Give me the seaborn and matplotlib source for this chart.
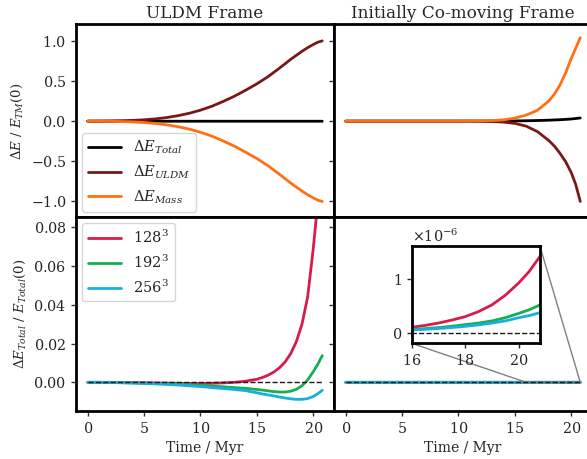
import numpy as np
import pandas as pd
import matplotlib
matplotlib.use("Agg")
import matplotlib.pyplot as plt
import seaborn as sns

# ---------------- data ----------------
# energy components (top row), time in Myr
t_top = [0, 1, 2, 3, 4, 5, 6, 7, 8, 9, 10, 11, 12, 13, 14, 15, 16, 17, 18, 18.5,
         19, 19.5, 20, 20.4, 20.8]
uldm_frame_total = [0, 0, 0, 0, 0, 0, 0, -0.001, -0.001, -0.001, -0.001, -0.001, -0.001, -0.001,
                    -0.001, -0.001, -0.001, -0.001, -0.001, -0.001, -0.001, -0.001, -0.001, -0.001, -0.001]
uldm_frame_uldm = [0, 0.0005, 0.002, 0.005, 0.01, 0.017, 0.028, 0.045, 0.068, 0.098, 0.137, 0.185,
                   0.245, 0.31, 0.385, 0.465, 0.555, 0.66, 0.77, 0.82, 0.87, 0.915, 0.955, 0.983, 1.0]
uldm_frame_mass = [0, -0.0005, -0.002, -0.005, -0.01, -0.017, -0.028, -0.046, -0.069, -0.099, -0.138,
                   -0.186, -0.246, -0.311, -0.386, -0.466, -0.556, -0.661, -0.771, -0.821, -0.871,
                   -0.916, -0.956, -0.984, -1.0]

comov_total = [0, 0, 0, 0, 0, 0, 0, 0, 0, 0, 0, 0.0005, 0.001, 0.0015, 0.002, 0.003, 0.005, 0.008,
               0.012, 0.015, 0.018, 0.022, 0.027, 0.033, 0.04]
comov_uldm = [0, 0, 0, 0, 0, 0, 0, 0, 0, 0, 0, -0.0005, -0.002, -0.005, -0.012, -0.028, -0.062, -0.13,
              -0.24, -0.31, -0.4, -0.505, -0.64, -0.79, -1.0]
comov_mass = [0, 0, 0, 0, 0, 0, 0, 0, 0, 0, 0, 0.001, 0.003, 0.007, 0.016, 0.038, 0.075, 0.135,
              0.25, 0.335, 0.45, 0.6, 0.78, 0.91, 1.04]

# relative total energy error for three grid resolutions (bottom row)
t_res = [0, 1, 2, 3, 4, 5, 6, 7, 8, 9, 10, 11, 12, 13, 14, 15, 15.5, 16, 16.5, 17, 17.5, 18,
         18.5, 19, 19.5, 20, 20.4, 20.8]
uldm_res128 = [0, 0, 0, -0.0001, -0.0001, -0.0002, -0.0003, -0.0004, -0.0005, -0.0006, -0.0006,
               -0.0005, -0.0003, 0, 0.0006, 0.0016, 0.0025, 0.0037, 0.0053, 0.0075, 0.0105, 0.0148,
               0.021, 0.030, 0.044, 0.069, 0.093, 0.13]
uldm_res192 = [0, 0, -0.0001, -0.0002, -0.0003, -0.0004, -0.0006, -0.0007, -0.0009, -0.0012, -0.0015,
               -0.0019, -0.0023, -0.0027, -0.0031, -0.0037, -0.0040, -0.0044, -0.0048, -0.005, -0.005,
               -0.0046, -0.0036, -0.0018, 0.0012, 0.0055, 0.0093, 0.0138]
uldm_res256 = [0, 0, -0.0001, -0.0002, -0.0004, -0.0006, -0.0008, -0.0011, -0.0014, -0.0018, -0.0022,
               -0.0027, -0.0032, -0.0037, -0.0043, -0.0054, -0.0060, -0.0065, -0.007, -0.0076, -0.0081,
               -0.0085, -0.0088, -0.0088, -0.0084, -0.0073, -0.0059, -0.0041]

t_comov_res = [0, 2, 4, 6, 8, 10, 12, 13, 14, 15, 16, 16.5, 17, 17.5, 18, 18.5, 19, 19.5, 20, 20.4, 20.8]
comov_res128 = [0, 0.003e-6, 0.01e-6, 0.018e-6, 0.03e-6, 0.042e-6, 0.058e-6, 0.068e-6, 0.079e-6,
                0.09e-6, 0.10e-6, 0.135e-6, 0.18e-6, 0.235e-6, 0.30e-6, 0.395e-6, 0.52e-6, 0.70e-6,
                0.93e-6, 1.15e-6, 1.43e-6]
comov_res192 = [0, 0.002e-6, 0.006e-6, 0.01e-6, 0.016e-6, 0.023e-6, 0.032e-6, 0.038e-6, 0.045e-6,
                0.052e-6, 0.06e-6, 0.075e-6, 0.095e-6, 0.12e-6, 0.15e-6, 0.18e-6, 0.22e-6, 0.28e-6,
                0.36e-6, 0.43e-6, 0.52e-6]
comov_res256 = [0, 0.002e-6, 0.005e-6, 0.009e-6, 0.014e-6, 0.02e-6, 0.027e-6, 0.032e-6, 0.038e-6,
                0.044e-6, 0.05e-6, 0.062e-6, 0.077e-6, 0.096e-6, 0.118e-6, 0.145e-6, 0.18e-6, 0.22e-6,
                0.28e-6, 0.32e-6, 0.375e-6]

res_labels = [r"$128^3$", r"$192^3$", r"$256^3$"]
comp_labels = [r"$\Delta E_{Total}$", r"$\Delta E_{ULDM}$", r"$\Delta E_{Mass}$"]
titles = ["ULDM Frame", "Initially Co-moving Frame"]

comp_colors = ["#000000", "#7a1818", "#ff7014"]
res_colors = ["#d81b4c", "#16ae55", "#19aee0"]

# ---------------- style ----------------
sns.set_theme(style="ticks")
plt.rcParams["font.family"] = ["DejaVu Serif", "DejaVu Sans"]
plt.rcParams["mathtext.fontset"] = "dejavuserif"
plt.rcParams["axes.formatter.use_mathtext"] = True
plt.rcParams["axes.linewidth"] = 2.0
plt.rcParams["xtick.labelsize"] = 10.3
plt.rcParams["ytick.labelsize"] = 10.3

fig = plt.figure(figsize=(5.87, 4.59), dpi=100)
gs = fig.add_gridspec(2, 2, left=0.1295, right=1.0085, top=0.9477, bottom=0.1046,
                      wspace=0, hspace=0)
ax_tl = fig.add_subplot(gs[0, 0])
ax_tr = fig.add_subplot(gs[0, 1], sharey=ax_tl, sharex=ax_tl)
ax_bl = fig.add_subplot(gs[1, 0], sharex=ax_tl)
ax_br = fig.add_subplot(gs[1, 1], sharey=ax_bl, sharex=ax_tl)

LW = 2.0


def comp_frame(t, tot, uldm, mass):
    return pd.DataFrame({"t": list(t) * 3,
                         "val": list(tot) + list(uldm) + list(mass),
                         "comp": [comp_labels[0]] * len(t) + [comp_labels[1]] * len(t)
                                 + [comp_labels[2]] * len(t)})


def res_frame(t, a, b, c):
    return pd.DataFrame({"t": list(t) * 3,
                         "val": list(a) + list(b) + list(c),
                         "res": [res_labels[0]] * len(t) + [res_labels[1]] * len(t)
                                + [res_labels[2]] * len(t)})


pal_comp = dict(zip(comp_labels, comp_colors))
pal_res = dict(zip(res_labels, res_colors))

# top row: energy components
sns.lineplot(data=comp_frame(t_top, uldm_frame_total, uldm_frame_uldm, uldm_frame_mass),
             x="t", y="val", hue="comp", palette=pal_comp, lw=LW, ax=ax_tl,
             estimator=None, sort=False)
sns.lineplot(data=comp_frame(t_top, comov_total, comov_uldm, comov_mass),
             x="t", y="val", hue="comp", palette=pal_comp, lw=LW, ax=ax_tr,
             estimator=None, sort=False, legend=False)

# bottom row: resolution study
sns.lineplot(data=res_frame(t_res, uldm_res128, uldm_res192, uldm_res256),
             x="t", y="val", hue="res", palette=pal_res, lw=LW, ax=ax_bl,
             estimator=None, sort=False)
sns.lineplot(data=res_frame(t_comov_res, comov_res128, comov_res192, comov_res256),
             x="t", y="val", hue="res", palette=pal_res, lw=LW, ax=ax_br,
             estimator=None, sort=False, legend=False)

zero_t = [t_res[0], t_res[-1]]
for ax in (ax_bl, ax_br):
    ax.plot(zero_t, [0, 0], color="k", ls="--", lw=1.0, zorder=5)

# axes limits and ticks
ax_tl.set_xlim(-1.04, 21.84)
ax_tl.set_ylim(-1.2, 1.21)
ax_tl.set_yticks([-1.0, -0.5, 0.0, 0.5, 1.0])
ax_bl.set_ylim(-0.0148, 0.0851)
ax_bl.set_yticks([0.0, 0.02, 0.04, 0.06, 0.08])
ax_bl.set_xticks([0, 5, 10, 15, 20])

for ax in (ax_tl, ax_tr, ax_bl, ax_br):
    ax.set_xlabel("")
    ax.set_ylabel("")
    ax.tick_params(direction="out", length=3.5, width=1.0, color="#333333", labelcolor="#262626")
    for s in ax.spines.values():
        s.set_visible(True)
        s.set_linewidth(2.0)
        s.set_color("black")

for ax in (ax_tl, ax_tr):
    ax.tick_params(axis="x", bottom=False, labelbottom=False)
for ax in (ax_tr, ax_br):
    ax.tick_params(axis="y", labelleft=False)

ax_tl.set_title(titles[0], fontsize=12.2, pad=4)
ax_tr.set_title(titles[1], fontsize=12.2, pad=4)

ax_tl.set_ylabel(r"$\Delta E\ /\ E_{TM}(0)$", fontsize=9.5)
ax_bl.set_ylabel(r"$\Delta E_{Total}\ /\ E_{Total}(0)$", fontsize=9.5)
ax_bl.set_xlabel("Time / Myr", fontsize=10)
ax_br.set_xlabel("Time / Myr", fontsize=10)

leg1 = ax_tl.legend(loc="lower left", fontsize=10.5, handlelength=2.3,
                    borderaxespad=0.4)
for h in leg1.get_lines():
    h.set_linewidth(LW)
leg2 = ax_bl.legend(loc="upper left", fontsize=10.5, handlelength=2.3,
                    borderaxespad=0.4)
for h in leg2.get_lines():
    h.set_linewidth(LW)

# zoomed inset on the co-moving frame error
axins = ax_br.inset_axes([0.301, 0.35, 0.497, 0.503])
sns.lineplot(data=res_frame(t_comov_res, comov_res128, comov_res192, comov_res256),
             x="t", y="val", hue="res", palette=pal_res, lw=LW, ax=axins,
             estimator=None, sort=False, legend=False)
axins.plot(zero_t, [0, 0], color="k", ls="--", lw=1.0, zorder=5)
axins.set_xlim(16, 20.8)
axins.set_ylim(-0.2e-6, 1.63e-6)
axins.set_xticks([16, 18, 20])
axins.set_yticks([0, 1e-6])
axins.set_xlabel("")
axins.set_ylabel("")
axins.tick_params(direction="out", length=3.5, width=1.0, labelsize=10.3)
for s in axins.spines.values():
    s.set_linewidth(2.0)
    s.set_color("black")
ax_br.indicate_inset_zoom(axins, edgecolor="gray", alpha=1.0, lw=1.0)

fig.savefig("out.png", dpi=100)
